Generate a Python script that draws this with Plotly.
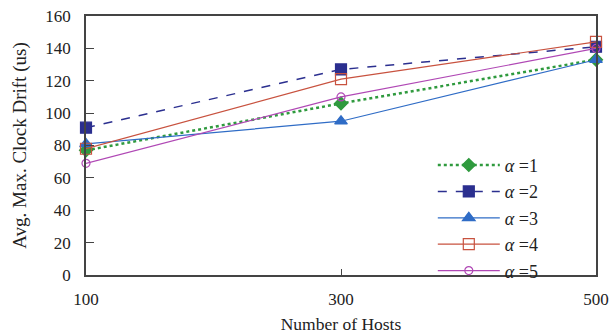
import plotly.graph_objects as go

hosts = [100, 300, 500]
alpha1 = [77, 106, 133]
alpha2 = [91, 127, 141]
alpha3 = [81, 95, 133]
alpha4 = [78, 121, 144]
alpha5 = [69, 110, 140]
names = ["<i>α</i> =1", "<i>α</i> =2", "<i>α</i> =3", "<i>α</i> =4", "<i>α</i> =5"]
y_ticks = [0, 20, 40, 60, 80, 100, 120, 140, 160]

styles = [
    dict(color="#2f9a3e", dash="dot", width=2.5, symbol="diamond", size=10),
    dict(color="#2b2f8f", dash="dash", width=1.5, symbol="square", size=11),
    dict(color="#2f6cc6", dash="solid", width=1.2, symbol="triangle-up", size=11),
    dict(color="#c8523f", dash="solid", width=1.2, symbol="square-open", size=11),
    dict(color="#b048b5", dash="solid", width=1.2, symbol="circle-open", size=8),
]

fig = go.Figure()
for ys, nm, st in zip([alpha1, alpha2, alpha3, alpha4, alpha5], names, styles):
    fig.add_trace(go.Scatter(
        x=hosts, y=ys, name=nm, mode="lines+markers",
        line=dict(color=st["color"], dash=st["dash"], width=st["width"]),
        marker=dict(symbol=st["symbol"], size=st["size"], color=st["color"],
                    line=dict(color=st["color"], width=1.2)),
        cliponaxis=False,
    ))

fig.update_layout(
    width=611, height=334,
    margin=dict(l=86, r=15, t=16, b=59),
    paper_bgcolor="white", plot_bgcolor="white",
    font=dict(family="Liberation Serif", size=17, color="#222"),
    showlegend=True,
    legend=dict(x=0.68, y=0.495, xanchor="left", yanchor="top",
                bgcolor="rgba(255,255,255,0)", font=dict(size=18),
                tracegroupgap=0, itemwidth=62),
    xaxis=dict(range=[100, 500], tickvals=hosts, ticks="inside", ticklen=6,
               ticklabelstandoff=8, automargin=False,
               showgrid=False, zeroline=False, showline=True, linecolor="#444",
               linewidth=1.5, mirror=True,
               title=dict(text="Number of Hosts", font=dict(size=17.5), standoff=10)),
    yaxis=dict(range=[0, 160], tickvals=y_ticks, ticks="inside", ticklen=8,
               ticklabelstandoff=10, automargin=False,
               showgrid=False, zeroline=False, showline=True, linecolor="#444",
               linewidth=1.5, mirror=True,
               title=dict(text="Avg. Max. Clock Drift (us)", font=dict(size=19), standoff=14)),
)

fig.write_html("out.html")
